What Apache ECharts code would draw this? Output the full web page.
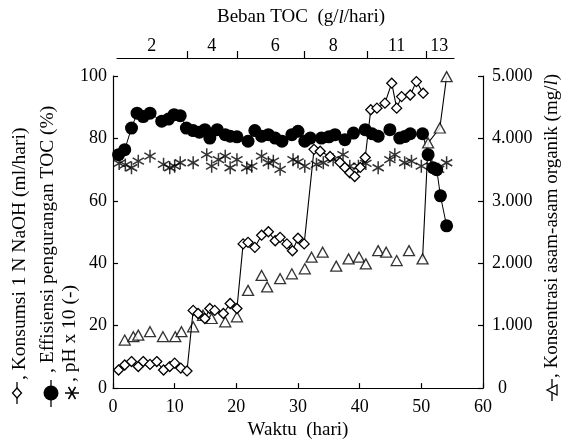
<!DOCTYPE html>
<html>
<head>
<meta charset="utf-8">
<script src="https://cdn.jsdelivr.net/npm/echarts@6.0.0/dist/echarts.min.js"></script>
<style>
  html, body { margin: 0; padding: 0; background: #fff; }
  #chart { width: 561px; height: 445px; }
</style>
</head>
<body>
<div id="chart"></div>
<script>
// Konsumsi 1 N NaOH (ml/hari) - diamonds
const naohDay = [0.9, 1.9, 3, 4.1, 4.9, 6, 7.1, 8.2, 9.2, 10, 11, 12,
  13, 13.8, 14.9, 15.7, 16.5, 17.9, 19, 20.1,
  21.1, 21.9, 23, 24.1, 25.2, 26.3, 27.1, 28.2, 29.1, 30, 31,
  32.6, 33.6, 35.2, 36.8, 37.6, 38.4, 39.2, 40.1, 40.9,
  41.8, 42.8, 44.1, 45.2, 46, 46.8, 48.2, 49.2, 50.3];
const naohVal = [5.8, 7.4, 8.5, 6.9, 8.5, 7.6, 8.5, 5.8, 6.9, 8, 6.4, 5.5,
  24.9, 23.9, 22.3, 25.5, 24.9, 23.9, 27.1, 25.5,
  46.2, 46.7, 45.1, 49, 50.1, 47.2, 48.3, 46.2, 44, 48, 46.2,
  76.5, 75.9, 74.2, 72.3, 70.7, 69, 67.8, 70.7, 73.9,
  89.2, 89.7, 91.3, 97.7, 89.7, 93.4, 93.9, 98.2, 94.5];

// Effisiensi pengurangan TOC (%) - filled circles
const effDay = [0.9, 1.9, 3, 3.9, 4.9, 6, 7.9, 9, 9.9, 10.9, 11.9, 13, 14, 14.9, 15.7, 16.9,
  18.2, 19, 20.1, 21.9, 23, 24.1, 25.2, 26.3, 27.4, 29, 30, 31.1, 32, 33.8, 35, 36,
  37.6, 39, 40.9, 42, 43, 44.9, 46.5, 47.3, 48.2, 50.2, 51.1, 51.9, 52.5, 53.1, 54.1];
const effVal = [74.8, 76.4, 83.3, 88.1, 87, 88.1, 85.5, 86.2, 87.6, 87.3, 83.3, 82.5, 82, 82.8, 80.1, 82.8,
  81.2, 80.7, 80.5, 79.1, 82.5, 80.7, 81.2, 80.1, 79.1, 81.2, 82.3, 79.1, 80.1, 80.1, 80.5, 81.2,
  79.6, 81.7, 82.8, 81.5, 80.7, 82.8, 80.1, 80.6, 81.5, 81.5, 74.8, 70.6, 70, 61.6, 52];

// pH x 10 (-) - asterisks
const phDay = [1, 2, 3, 4.1, 6, 8.2, 9.2, 10, 10.9, 13, 15.2, 16, 17.1, 18.2, 19, 20.1,
  21.7, 22.5, 24.1, 25.2, 26, 27.1, 29.2, 30, 31.1, 33, 34.1, 35.7, 37.3, 38.4, 39.8,
  41, 43, 44.9, 45.7, 47.3, 48.4, 50, 51.7, 52.8, 54.1];
const phVal = [72, 71.5, 70.6, 72.7, 74.3, 71.7, 70.6, 71.1, 72.2, 72.2, 74.8, 71.1, 73.2, 74.3, 70.6, 73.2,
  70.6, 71.1, 74.3, 72.2, 72.7, 70.1, 73.2, 72.5, 71.1, 71.7, 72.2, 73.2, 74.8, 71.1, 71.1,
  72, 70.6, 73.2, 74.8, 72.2, 72.7, 71.1, 71.1, 70.1, 72.2];

// Konsentrasi asam-asam organik (mg/l) - triangles
const acidDay = [1.9, 3.3, 4.1, 6, 8.1, 10.1, 11.1, 13, 14.6, 16, 18.2, 20.1, 21.9, 24.1, 25, 27.1,
  29, 31.1, 32.2, 34, 36.2, 38.2, 39.9, 41, 43, 44.3, 46, 48, 50.2, 51.1, 53, 54.1];
const acidVal = [770, 823, 849, 903, 823, 823, 903, 982, 1167, 1115, 1062, 1142, 1566, 1804, 1620, 1752,
  1831, 1911, 2097, 2177, 1954, 2070, 2097, 1990, 2202, 2177, 2043, 2202, 2070, 3928, 4167, 4990];

// Beban TOC (g/l/hari) - top axis
const loadBounds = [12, 20.1, 31, 41.2, 50.8];
const loadLabelPos = [6.3, 16, 26.3, 35.7, 46, 52.9];
const loadLabels = ['2', '4', '6', '8', '11', '13'];

const FONT = '"Liberation Serif", "Times New Roman", serif';
const pairs = (d, v) => d.map((x, i) => [x, v[i]]);
const asterisk = 'path://M5,0L5,10M0.67,2.5L9.33,7.5M0.67,7.5L9.33,2.5';

const chart = echarts.init(document.getElementById('chart'));

const tickLabel = { color: '#000', fontFamily: FONT, fontSize: 18 };
const blackLine = { lineStyle: { color: '#000', width: 1.2 } };

chart.setOption({
  animation: false,
  backgroundColor: '#fff',
  title: {
    text: 'Beban TOC  (g/{i|l}/hari)',
    left: 296, top: 3, textAlign: 'center',
    textStyle: {
      fontFamily: FONT, fontSize: 19, fontWeight: 'normal', color: '#000',
      rich: { i: { fontFamily: FONT, fontSize: 19, fontStyle: 'italic', color: '#000' } }
    }
  },
  grid: [
    { left: 113, right: 78, top: 76, bottom: 55 },
    { left: 117, right: 107, top: 58, height: 10 }
  ],
  xAxis: [
    {
      gridIndex: 0, type: 'value', min: 0, max: 60, interval: 10, position: 'bottom',
      axisLine: Object.assign({ show: true, onZero: false }, blackLine),
      axisTick: { inside: true, length: 5, lineStyle: { color: '#000', width: 1.2 } },
      axisLabel: Object.assign({ margin: 10 }, tickLabel),
      splitLine: { show: false },
      name: 'Waktu  (hari)', nameLocation: 'middle', nameGap: 32,
      nameTextStyle: { color: '#000', fontFamily: FONT, fontSize: 19 }
    },
    {
      gridIndex: 1, type: 'value', min: 0.65, max: 55.3, position: 'top',
      axisLine: Object.assign({ show: true, onZero: false }, blackLine),
      axisTick: { show: true, length: 7, customValues: loadBounds, lineStyle: { color: '#000', width: 1.2 } },
      axisLabel: Object.assign({
        margin: 3,
        customValues: loadLabelPos,
        formatter: v => {
          const i = loadLabelPos.indexOf(v);
          return i >= 0 ? loadLabels[i] : '';
        }
      }, tickLabel),
      splitLine: { show: false }
    }
  ],
  yAxis: [
    {
      gridIndex: 0, type: 'value', min: 0, max: 100, interval: 20, position: 'left',
      axisLine: Object.assign({ show: true, onZero: false }, blackLine),
      axisTick: { show: true, inside: true, length: 5, lineStyle: { color: '#000', width: 1.2 } },
      axisLabel: Object.assign({ margin: 6 }, tickLabel),
      splitLine: { show: false }
    },
    {
      gridIndex: 0, type: 'value', min: 0, max: 5000, interval: 1000, position: 'right',
      axisLine: Object.assign({ show: true, onZero: false }, blackLine),
      axisTick: { show: true, inside: true, length: 5, lineStyle: { color: '#000', width: 1.2 } },
      axisLabel: Object.assign({
        margin: 9,
        formatter: v => v === 0 ? '{z|0}' : (v / 1000).toFixed(3),
        rich: { z: { fontFamily: FONT, fontSize: 18, color: '#000', padding: [0, 0, 0, 6] } }
      }, tickLabel),
      splitLine: { show: false }
    },
    { gridIndex: 1, type: 'value', show: false }
  ],
  series: [
    {
      name: 'Effisiensi', type: 'line', xAxisIndex: 0, yAxisIndex: 0,
      data: pairs(effDay, effVal),
      symbol: 'circle', symbolSize: 13, showAllSymbol: true,
      itemStyle: { color: '#000' },
      lineStyle: { color: '#000', width: 1 }, z: 2
    },
    {
      name: 'pH', type: 'scatter', xAxisIndex: 0, yAxisIndex: 0,
      data: pairs(phDay, phVal),
      symbol: asterisk, symbolSize: 13, symbolKeepAspect: true,
      itemStyle: { color: 'none', borderColor: '#000', borderWidth: 1.5 }, z: 3
    },
    {
      name: 'Asam organik', type: 'scatter', xAxisIndex: 0, yAxisIndex: 1,
      data: pairs(acidDay, acidVal),
      symbol: 'triangle', symbolSize: [11, 10],
      itemStyle: { color: '#fff', borderColor: '#000', borderWidth: 1.3 }, z: 4
    },
    {
      name: 'Asam organik (akhir)', type: 'line', xAxisIndex: 0, yAxisIndex: 1,
      data: pairs(acidDay.slice(-4), acidVal.slice(-4)),
      symbol: 'none',
      lineStyle: { color: '#000', width: 1.1 }, z: 3
    },
    {
      name: 'NaOH', type: 'line', xAxisIndex: 0, yAxisIndex: 0,
      data: pairs(naohDay, naohVal),
      symbol: 'diamond', symbolSize: 10, showAllSymbol: true,
      itemStyle: { color: '#fff', borderColor: '#000', borderWidth: 1.3 },
      lineStyle: { color: '#000', width: 1.1 }, z: 5
    }
  ],
  graphic: [
    // legend icons (left)
    { type: 'line', shape: { x1: 17, y1: 382, x2: 17, y2: 404 }, style: { stroke: '#000', lineWidth: 1.3 } },
    { type: 'polygon', shape: { points: [[17, 388], [21.5, 393], [17, 398], [12.5, 393]] }, style: { fill: '#fff', stroke: '#000', lineWidth: 1.3 } },
    { type: 'line', shape: { x1: 51, y1: 380, x2: 51, y2: 407 }, style: { stroke: '#000', lineWidth: 1.3 } },
    { type: 'circle', shape: { cx: 51, cy: 393, r: 7.5 }, style: { fill: '#000' } },
    { type: 'line', shape: { x1: 65, y1: 393, x2: 79, y2: 393 }, style: { stroke: '#000', lineWidth: 1.5 } },
    { type: 'line', shape: { x1: 68.5, y1: 387, x2: 75.5, y2: 399 }, style: { stroke: '#000', lineWidth: 1.5 } },
    { type: 'line', shape: { x1: 75.5, y1: 387, x2: 68.5, y2: 399 }, style: { stroke: '#000', lineWidth: 1.5 } },
    // left titles, reading upward
    { type: 'text', x: 20, y: 380, rotation: Math.PI / 2,
      style: { text: ', Konsumsi 1 N NaOH (ml/hari)', font: '19.5px ' + FONT, fill: '#000', align: 'left', verticalAlign: 'middle' } },
    { type: 'text', x: 48, y: 373, rotation: Math.PI / 2,
      style: { text: ', Effisiensi pengurangan TOC (%)', font: '19.5px ' + FONT, fill: '#000', align: 'left', verticalAlign: 'middle' } },
    { type: 'text', x: 70, y: 382, rotation: Math.PI / 2,
      style: { text: ', pH x 10 (-)', font: '19.5px ' + FONT, fill: '#000', align: 'left', verticalAlign: 'middle' } },
    // right legend icon + title
    { type: 'line', shape: { x1: 552, y1: 379, x2: 552, y2: 401 }, style: { stroke: '#000', lineWidth: 1.3 } },
    { type: 'polygon', shape: { points: [[547, 390], [557, 385], [557, 395]] }, style: { fill: '#fff', stroke: '#000', lineWidth: 1.3 } },
    { type: 'text', x: 552, y: 378, rotation: Math.PI / 2,
      style: {
        text: ', Konsentrasi asam-asam organik (mg/{i|l})', font: '19px ' + FONT, fill: '#000',
        align: 'left', verticalAlign: 'middle',
        rich: { i: { fontStyle: 'italic', fontFamily: FONT, fontSize: 19 } }
      } }
  ]
});
</script>
</body>
</html>
